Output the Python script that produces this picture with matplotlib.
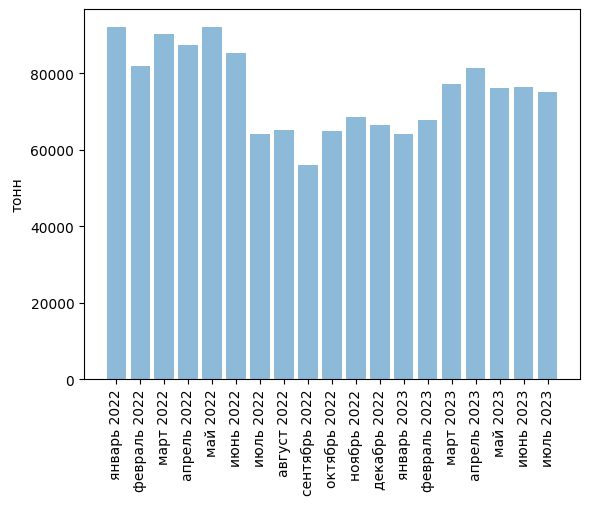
import numpy as np
import matplotlib
matplotlib.use("Agg")
import matplotlib.pyplot as plt

months = ["январь 2022", "февраль 2022", "март 2022", "апрель 2022", "май 2022",
          "июнь 2022", "июль 2022", "август 2022", "сентябрь 2022", "октябрь 2022",
          "ноябрь 2022", "декабрь 2022", "январь 2023", "февраль 2023", "март 2023",
          "апрель 2023", "май 2023", "июнь 2023", "июль 2023"]
tons = [92200, 81900, 90300, 87400, 92200, 85300, 64000, 65100, 55900, 64800,
        68500, 66400, 64000, 67700, 77200, 81400, 76100, 76400, 75100]

fig = plt.figure(figsize=(5.89, 5.06), dpi=100)
ax = fig.add_axes([0.1426, 0.249, 0.842, 0.731])
x = np.arange(len(months))
ax.bar(x, tons, align="center", alpha=0.5)
ax.set_xticks(x)
ax.set_xticklabels(months, rotation=90)
ax.set_ylabel("тонн")
fig.savefig("out.png")
